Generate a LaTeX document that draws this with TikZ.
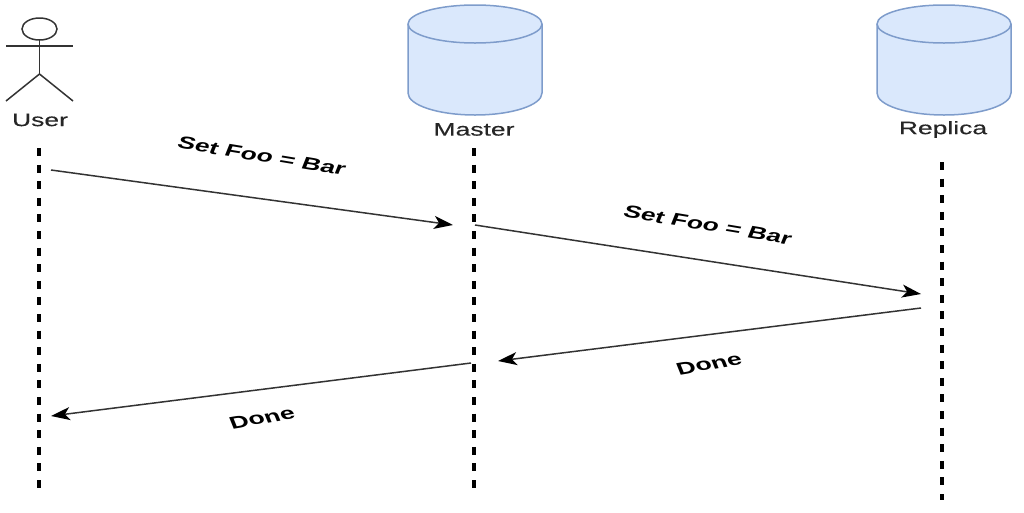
\documentclass[tikz,border=0pt]{standalone}
\usepackage{fontspec}
\setmainfont{Liberation Sans}
\usetikzlibrary{arrows.meta}
\definecolor{cylfill}{HTML}{DAE8FC}
\definecolor{cylline}{HTML}{7E9CCB}
\definecolor{inkline}{HTML}{333333}
\tikzset{
  lifeline/.style={line width=4pt,black,dash pattern=on 8pt off 8.6pt},
  msg/.style={line width=1.5pt,inkline,-{Stealth[length=19pt,width=13pt,inset=5pt,black]}},
  actorline/.style={line width=1.5pt,inkline},
  cyl/.style={line width=1.5pt,draw=cylline,fill=cylfill},
  namelabel/.style={inner sep=0pt,font=\fontsize{18}{20}\selectfont\addfontfeature{FakeBold=0.25},text=black!85,xscale=1.47,transform shape},
  msgdown/.style={inner sep=0pt,font=\fontsize{17.2}{20}\selectfont\bfseries,xscale=1.55,rotate=-14.5,transform shape},
  msgup/.style={inner sep=0pt,font=\fontsize{17.2}{20}\selectfont\bfseries,xscale=1.55,rotate=14.5,transform shape}
}
\newcommand{\dbcyl}[1]{%
  \path[cyl] (#1-67,24) -- (#1-67,93) arc[x radius=67,y radius=22,start angle=180,end angle=0] -- (#1+67,24) arc[x radius=67,y radius=19,start angle=0,end angle=-180] -- cycle;
  \draw[cyl,fill=none] (#1-67,24) arc[x radius=67,y radius=19,start angle=180,end angle=0];
}
\begin{document}
\begin{tikzpicture}[x=1pt,y=-1pt]
\useasboundingbox (0,0) rectangle (1024,512);
% actor
\draw[actorline] (39.5,29) ellipse[x radius=17.5,y radius=11];
\draw[actorline] (39.5,40) -- (39.5,74);
\draw[actorline] (6,46) -- (73,46);
\draw[actorline] (6,101) -- (39.5,74) -- (73,101);
% cylinders
\dbcyl{475}
\dbcyl{944}
% names
\node[namelabel] (user) at (40,120) {User};
\node[namelabel] (master) at (474,129.5) {Master};
\node[namelabel] (replica) at (943,129.5) {Replica};
% lifelines
\coordinate (u1) at (39,148); \coordinate (u2) at (39,488);
\coordinate (m1) at (474,148); \coordinate (m2) at (474,488);
\coordinate (r1) at (942,162); \coordinate (r2) at (942,500);
\draw[lifeline] (u1) -- (u2);
\draw[lifeline] (m1) -- (m2);
\draw[lifeline] (r1) -- (r2);
% messages
\coordinate (a1) at (51,170); \coordinate (a2) at (453,225);
\coordinate (b1) at (475,225); \coordinate (b2) at (921,294);
\coordinate (c1) at (921,308); \coordinate (c2) at (498,361);
\coordinate (d1) at (471,363); \coordinate (d2) at (51,416);
\draw[msg] (a1) -- (a2);
\draw[msg] (b1) -- (b2);
\draw[msg] (c1) -- (c2);
\draw[msg] (d1) -- (d2);
% message labels
\node[msgdown] (t1) at (262,156) {Set Foo = Bar};
\node[msgdown] (t2) at (708,225) {Set Foo = Bar};
\node[msgup] (t3) at (709,364) {Done};
\node[msgup] (t4) at (262,418) {Done};
\end{tikzpicture}
\end{document}
